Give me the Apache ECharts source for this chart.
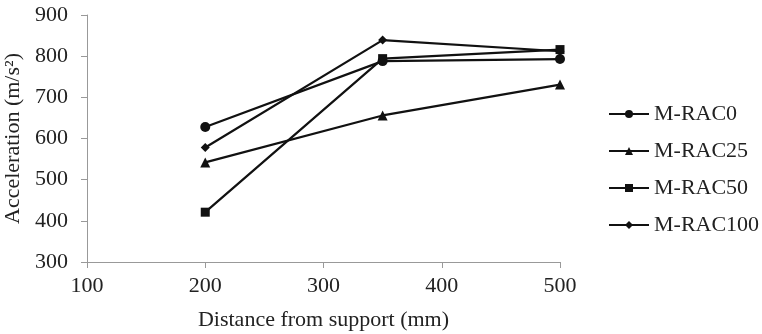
<!DOCTYPE html>
<html>
<head>
<meta charset="utf-8">
<script src="https://cdn.jsdelivr.net/npm/echarts@6/dist/echarts.min.js"></script>
<style>html,body{margin:0;padding:0;background:#fff;}#c{width:762px;height:334px;}</style>
</head>
<body>
<div id="c"></div>
<script>
const distances = [200, 350, 500];
const rac0 = [628, 788, 793];
const rac25 = [542, 656, 731];
const rac50 = [421, 794, 816];
const rac100 = [578, 839, 812];
const seriesNames = ['M-RAC0', 'M-RAC25', 'M-RAC50', 'M-RAC100'];
const xTicks = [100, 200, 300, 400, 500];
const yTicks = [300, 400, 500, 600, 700, 800, 900];

const font = 'Liberation Serif';
const symbols = ['circle', 'triangle', 'rect', 'diamond'];
const sizes = [10, 10, 9, 9];
const values = [rac0, rac25, rac50, rac100];

const chart = echarts.init(document.getElementById('c'));
chart.setOption({
  animation: false,
  backgroundColor: '#fff',
  grid: { left: 87, right: 202, top: 15, bottom: 72, containLabel: false, outerBoundsMode: 'none' },
  xAxis: {
    type: 'value', min: xTicks[0], max: xTicks[xTicks.length - 1], interval: 100,
    name: 'Distance from support (mm)', nameLocation: 'middle', nameGap: 47,
    nameTextStyle: { fontFamily: font, fontSize: 22, color: '#222' },
    axisLine: { lineStyle: { color: '#999', width: 1 } },
    axisTick: { show: true, length: 6, lineStyle: { color: '#999' } },
    axisLabel: { fontFamily: font, fontSize: 22, color: '#222', margin: 13 },
    splitLine: { show: false }
  },
  yAxis: {
    type: 'value', min: yTicks[0], max: yTicks[yTicks.length - 1], interval: 100,
    name: 'Acceleration (m/s²)', nameLocation: 'middle', nameGap: 58, nameRotate: 90,
    nameTextStyle: { fontFamily: font, fontSize: 22, color: '#222' },
    axisLine: { show: true, lineStyle: { color: '#999', width: 1 } },
    axisTick: { show: true, length: 6, lineStyle: { color: '#999' } },
    axisLabel: { fontFamily: font, fontSize: 22, color: '#222', margin: 19 },
    splitLine: { show: false }
  },
  legend: {
    orient: 'vertical', left: 603, top: 98, itemGap: 15, itemWidth: 40, itemHeight: 10,
    textStyle: { fontFamily: font, fontSize: 22, color: '#222' },
    data: seriesNames
  },
  series: seriesNames.map((n, i) => ({
    name: n, type: 'line',
    data: distances.map((d, j) => [d, values[i][j]]),
    symbol: symbols[i], symbolSize: sizes[i],
    lineStyle: { color: '#111', width: 2.2 },
    itemStyle: { color: '#111' }
  }))
});
</script>
</body>
</html>
